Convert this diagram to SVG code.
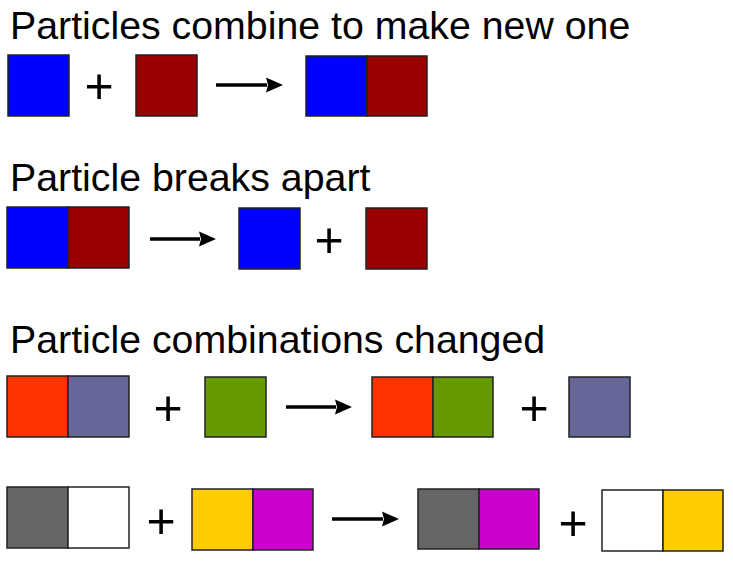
<svg xmlns="http://www.w3.org/2000/svg" width="733" height="563" viewBox="0 0 733 563">
<defs>
<style>
.t{font-family:"Liberation Sans",Arial,sans-serif;font-size:39.3px;fill:#000}
.p{font-family:"Liberation Sans",Arial,sans-serif;font-size:50px;fill:#000;text-anchor:middle}
.s{stroke:#222;stroke-width:1.5}
.c{stroke:#000;stroke-width:3.5;fill:none}
</style>
<marker id="ah" markerUnits="userSpaceOnUse" viewBox="0 0 17 15" markerWidth="17" markerHeight="15" refX="1" refY="7.5" orient="auto" overflow="visible">
<path d="M0,0 L17,7.5 L0,15 L2,7.5 Z" fill="#000"/>
</marker>
</defs>
<rect width="733" height="563" fill="#fff"/>
<text class="t" x="10" y="39">Particles combine to make new one</text>
<text class="t" x="10" y="191">Particle breaks apart</text>
<text class="t" x="10" y="353">Particle combinations changed</text>

<g id="row1">
<g id="r1a"><rect class="s" x="8" y="55" width="61" height="61" fill="#0000FF"/></g>
<g id="r1b"><rect class="s" x="136" y="55" width="61" height="61" fill="#990000"/></g>
<g id="r1c"><rect class="s" x="306" y="56" width="61" height="60" fill="#0000FF"/><rect class="s" x="367" y="56" width="60" height="60" fill="#990000"/></g>
<text class="p" x="99" y="103">+</text>
</g>

<g id="row2">
<g id="r2a"><rect class="s" x="7" y="207" width="61" height="61" fill="#0000FF"/><rect class="s" x="68" y="207" width="61" height="61" fill="#990000"/></g>
<g id="r2b"><rect class="s" x="239" y="208" width="61" height="61" fill="#0000FF"/></g>
<g id="r2c"><rect class="s" x="366" y="208" width="61" height="61" fill="#990000"/></g>
<text class="p" x="329" y="257">+</text>
</g>

<g id="row3">
<g id="r3a"><rect class="s" x="7" y="376" width="61" height="61" fill="#FF3300"/><rect class="s" x="68" y="376" width="61" height="61" fill="#666699"/></g>
<g id="r3b"><rect class="s" x="205" y="377" width="61" height="60" fill="#669900"/></g>
<g id="r3c"><rect class="s" x="372" y="377" width="61" height="60" fill="#FF3300"/><rect class="s" x="433" y="377" width="60" height="60" fill="#669900"/></g>
<g id="r3d"><rect class="s" x="569" y="377" width="61" height="60" fill="#666699"/></g>
<text class="p" x="168" y="425">+</text>
<text class="p" x="534" y="425">+</text>
</g>

<g id="row4">
<g id="r4a"><rect class="s" x="7" y="487" width="61" height="61" fill="#666666"/><rect class="s" x="68" y="487" width="61" height="61" fill="#FFFFFF"/></g>
<g id="r4b"><rect class="s" x="192" y="489" width="61" height="61" fill="#FFCC00"/><rect class="s" x="253" y="489" width="60" height="61" fill="#CC00CC"/></g>
<g id="r4c"><rect class="s" x="418" y="489" width="61" height="60" fill="#666666"/><rect class="s" x="479" y="489" width="60" height="60" fill="#CC00CC"/></g>
<g id="r4d"><rect class="s" x="602" y="490" width="61" height="61" fill="#FFFFFF"/><rect class="s" x="663" y="490" width="60" height="61" fill="#FFCC00"/></g>
<text class="p" x="161" y="538">+</text>
<text class="p" x="573" y="540">+</text>
</g>

<g id="connectors">
<line class="c" x1="216" y1="85" x2="267" y2="85" marker-end="url(#ah)"/>
<line class="c" x1="150" y1="239" x2="200" y2="239" marker-end="url(#ah)"/>
<line class="c" x1="286" y1="407" x2="336" y2="407" marker-end="url(#ah)"/>
<line class="c" x1="332" y1="519" x2="383" y2="519" marker-end="url(#ah)"/>
</g>
</svg>
